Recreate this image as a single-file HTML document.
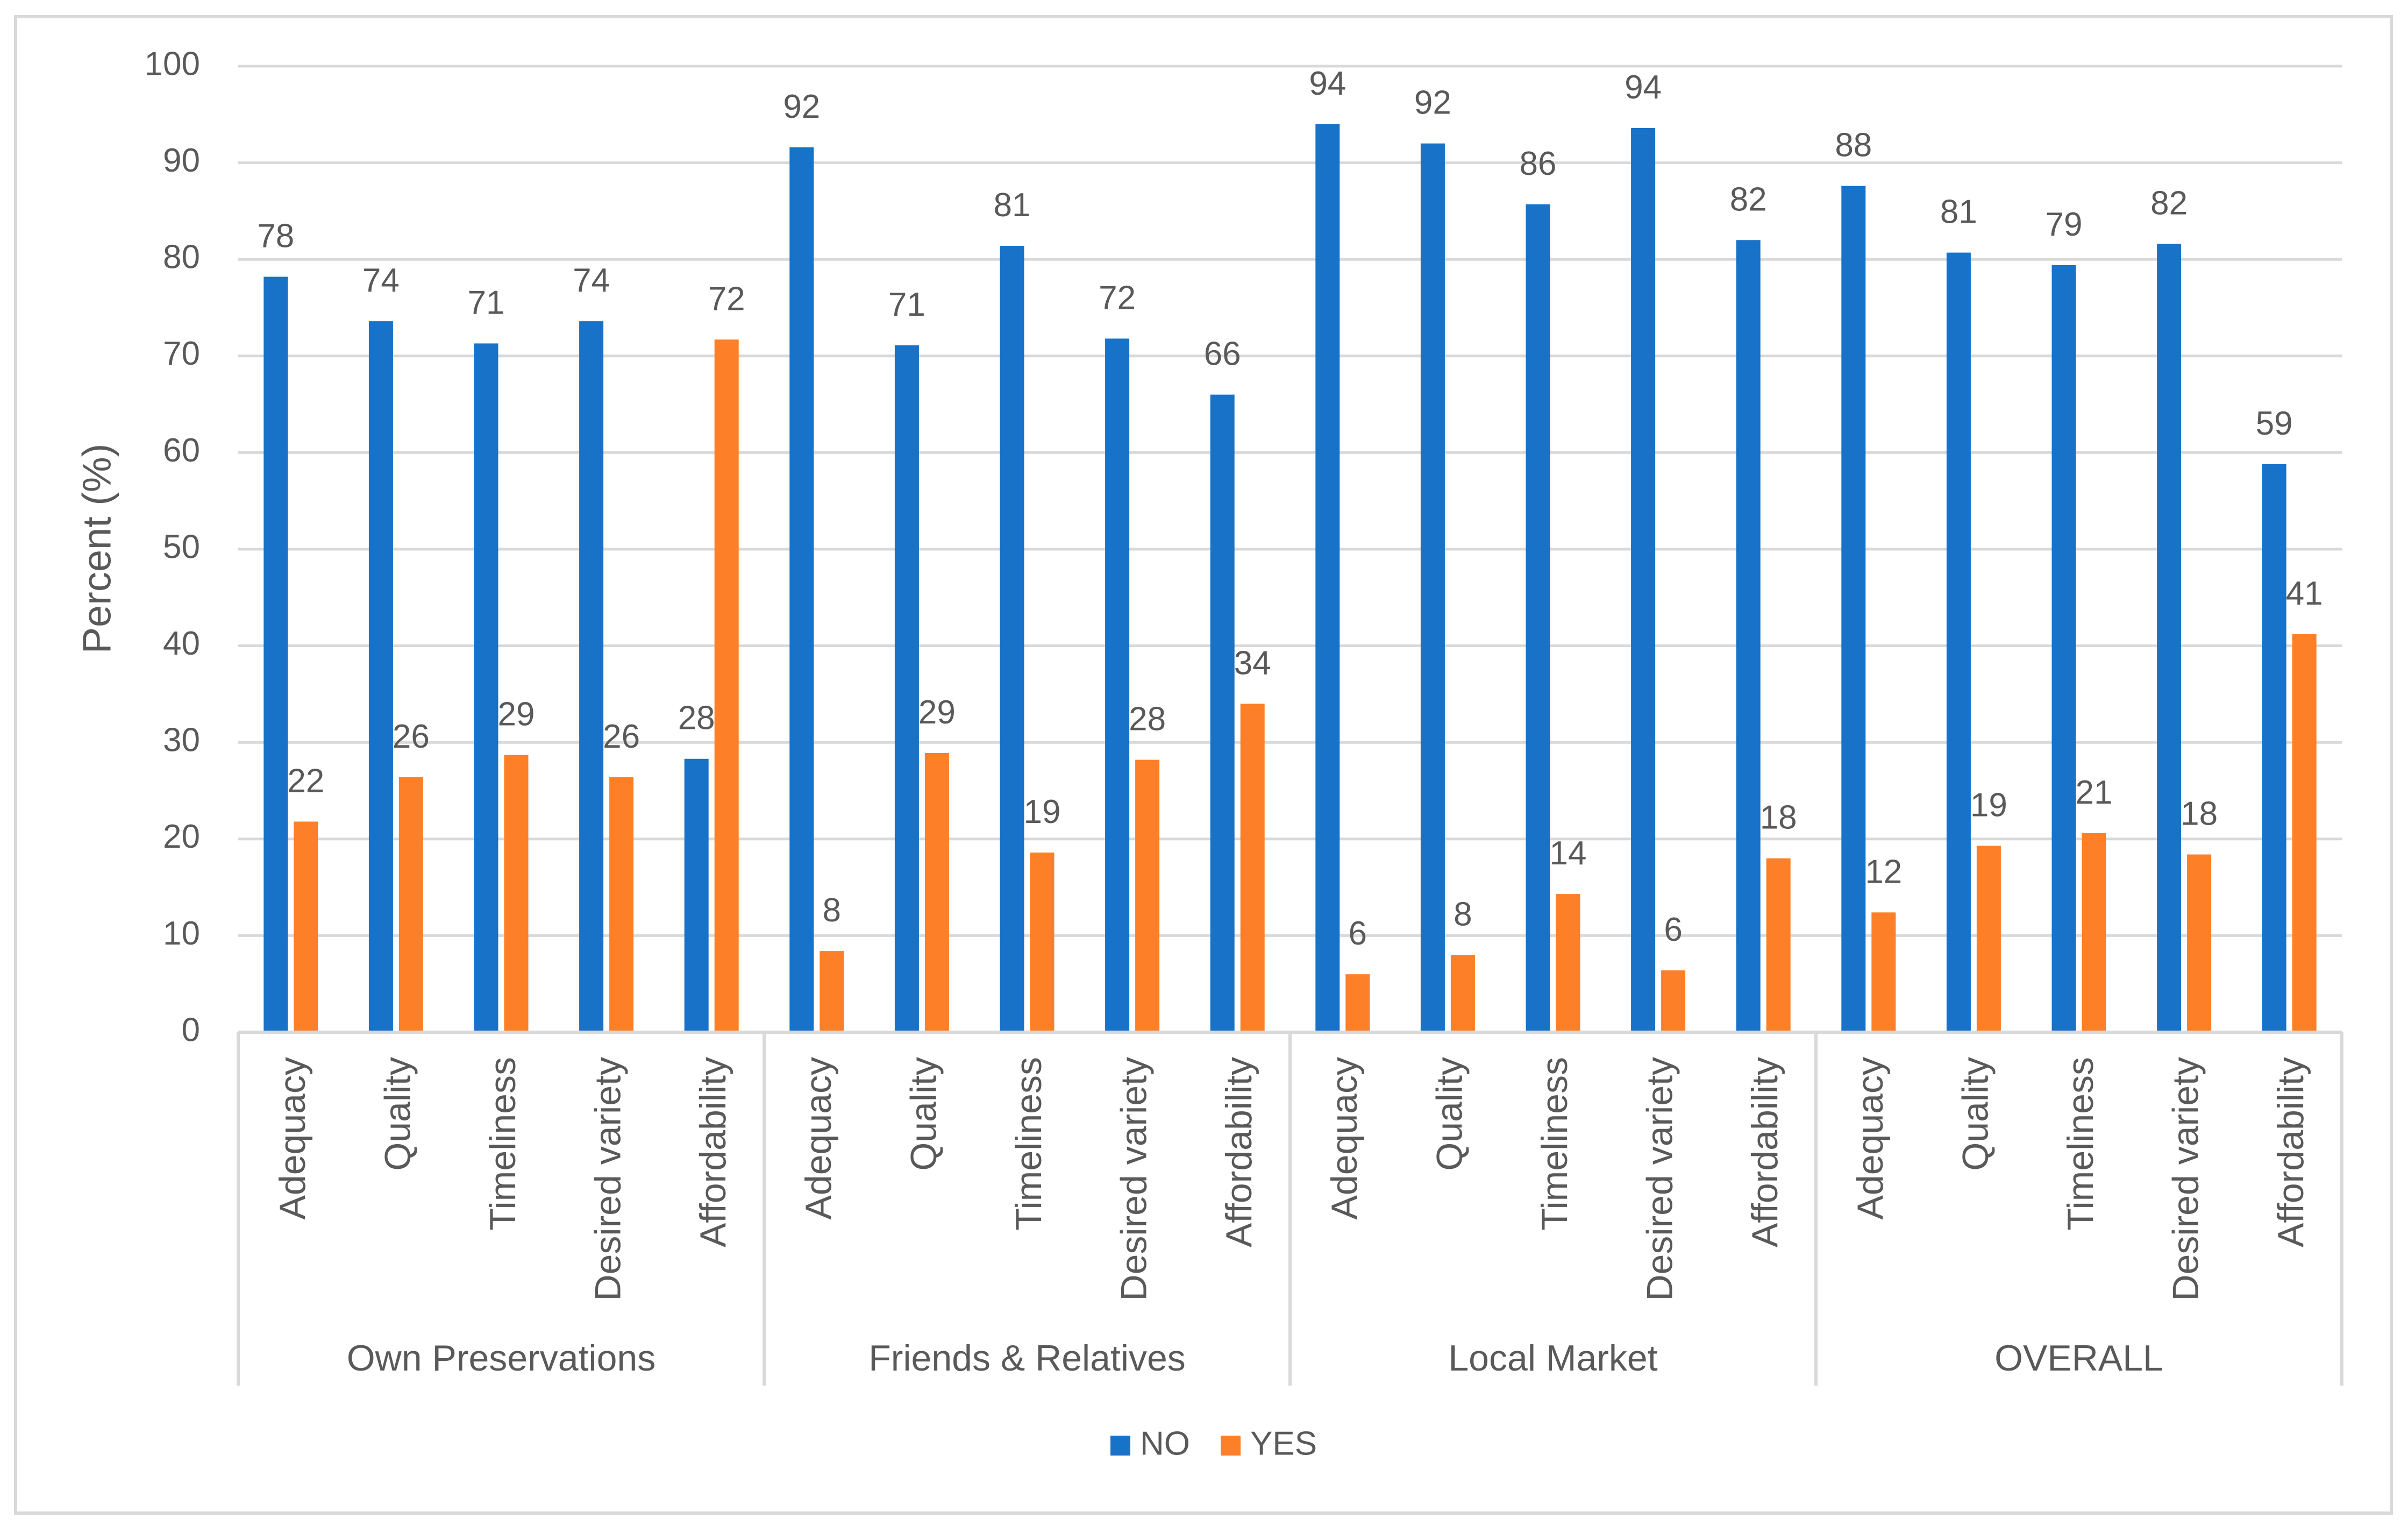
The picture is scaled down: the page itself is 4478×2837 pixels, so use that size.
<!DOCTYPE html>
<html><head><meta charset="utf-8"><style>
html,body{margin:0;padding:0;background:#fff}
svg{display:block;font-family:"Liberation Sans",sans-serif}
</style></head><body>
<svg id="chart" width="4478" height="2837" viewBox="0 0 4478 2837">
<rect x="29" y="31" width="4418" height="2782" fill="#fff" stroke="#d9d9d9" stroke-width="6"/>
<g id="grid"></g>
<g id="yticks"></g>
<g id="bars"></g>
<g id="labels"></g>
<g id="xaxis"></g>
<text x="186" y="1020" transform="rotate(-90 186 1020)" text-anchor="middle" dominant-baseline="middle" font-size="74" fill="#595959">Percent (%)</text>
<g>
<rect x="2065" y="2669" width="37" height="37" fill="#1772C8"/>
<text x="2120" y="2688" dominant-baseline="middle" font-size="62" fill="#595959">NO</text>
<rect x="2270" y="2669" width="37" height="37" fill="#FD7F27"/>
<text x="2325" y="2688" dominant-baseline="middle" font-size="62" fill="#595959">YES</text>
</g>
</svg>
<script>
const groups = ["Own Preservations","Friends & Relatives","Local Market","OVERALL"];
const categories = ["Adequacy","Quality","Timeliness","Desired variety","Affordability"];
const noValues = [78.2,73.6,71.3,73.6,28.3, 91.6,71.1,81.4,71.8,66.0, 94.0,92.0,85.7,93.6,82.0, 87.6,80.7,79.4,81.6,58.8];
const yesValues = [21.8,26.4,28.7,26.4,71.7, 8.4,28.9,18.6,28.2,34.0, 6.0,8.0,14.3,6.4,18.0, 12.4,19.3,20.6,18.4,41.2];
const yTicks = [0,10,20,30,40,50,60,70,80,90,100];

const NS="http://www.w3.org/2000/svg";
const L=443,R=4355,T=123,B=1919;
const n=noValues.length, step=(R-L)/n;
const y=v=>B-(v/100)*(B-T);
const xc=i=>L+step*(i+0.5);
function mk(tag,attrs,parent,text){const e=document.createElementNS(NS,tag);for(const k in attrs)e.setAttribute(k,attrs[k]);if(text!==undefined)e.textContent=text;document.getElementById(parent).appendChild(e);return e;}

yTicks.forEach(t=>{
  const g=mk('line',{x1:L,x2:R,y1:y(t),y2:y(t),stroke:'#d9d9d9','stroke-width':5},'grid');
  
  
  const tx=mk('text',{x:372,y:y(t),'text-anchor':'end','dominant-baseline':'middle','font-size':62,fill:'#595959'},'yticks',String(t));
  
  
});

const bw=45,gap=11;
for(let i=0;i<n;i++){
  const c=xc(i);
  const bx=c-bw-gap/2, ox=c+gap/2;
  const b=mk('rect',{x:bx,y:y(noValues[i]),width:bw,height:B-y(noValues[i]),fill:'#1772C8'},'bars');
  
  
  const o=mk('rect',{x:ox,y:y(yesValues[i]),width:bw,height:B-y(yesValues[i]),fill:'#FD7F27'},'bars');
  
  
  const l1=mk('text',{x:bx+bw/2,y:y(noValues[i])-55,'text-anchor':'middle','font-size':62,fill:'#595959'},'labels',String(Math.round(noValues[i])));
  
  
  const l2=mk('text',{x:ox+bw/2,y:y(yesValues[i])-55,'text-anchor':'middle','font-size':62,fill:'#595959'},'labels',String(Math.round(yesValues[i])));
  
  
  const cx=c+8, cy=1965;
  const cl=mk('text',{x:cx,y:cy,transform:`rotate(-90 ${cx} ${cy})`,'text-anchor':'end','dominant-baseline':'middle','font-size':68,fill:'#595959'},'xaxis',categories[i%categories.length]);
  
  
}
const ax=mk('line',{x1:L,x2:R,y1:B,y2:B,stroke:'#d9d9d9','stroke-width':6},'xaxis');


const per=categories.length;
for(let g=0;g<=groups.length;g++){
  const x=L+step*per*g;
  const d=mk('line',{x1:x,x2:x,y1:B,y2:2576,stroke:'#d9d9d9','stroke-width':6},'xaxis');
  
  
}
groups.forEach((gname,g)=>{
  const x=L+step*per*(g+0.5);
  const t=mk('text',{x:x,y:2530,'text-anchor':'middle','dominant-baseline':'middle','font-size':68,fill:'#595959'},'xaxis',gname);
  
  
});
</script>
</body></html>
